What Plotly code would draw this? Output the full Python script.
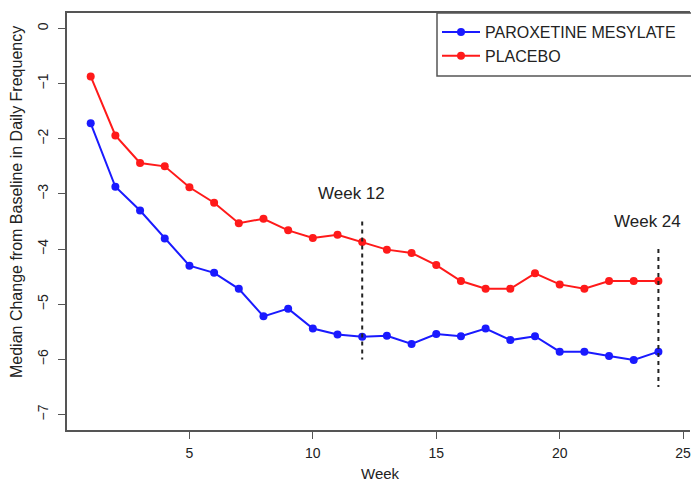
import plotly.graph_objects as go

weeks = list(range(1, 25))
paroxetine = [-1.72, -2.87, -3.30, -3.81, -4.30, -4.43, -4.72, -5.22, -5.08, -5.44,
              -5.55, -5.59, -5.57, -5.72, -5.54, -5.58, -5.44, -5.65, -5.58, -5.86,
              -5.86, -5.94, -6.01, -5.86]
placebo = [-0.87, -1.94, -2.44, -2.50, -2.88, -3.16, -3.53, -3.45, -3.66, -3.80,
           -3.74, -3.87, -4.01, -4.07, -4.29, -4.58, -4.72, -4.72, -4.44, -4.64,
           -4.72, -4.58, -4.58, -4.58]
ref_weeks = [12, 24]
ref_top = [-3.5, -4.0]
ref_bottom = [-6.0, -6.5]
ref_labels = ["Week 12", "Week 24"]
ref_label_x = [11.55, 23.55]
ref_label_y = [-3.0, -3.5]
x_ticks = [5, 10, 15, 20, 25]
y_ticks = [0, -1, -2, -3, -4, -5, -6, -7]

FONT = "Liberation Sans, Arial, Helvetica, sans-serif"
AX = "#555555"
TXT = "#222222"

# plot area geometry (px)
L, T, W, H = 67, 13, 623, 417

def px(xp):
    return (xp - L) / W

def py(yp):
    return (T + H - yp) / H

fig = go.Figure()
fig.add_trace(go.Scatter(x=weeks, y=paroxetine, mode="lines+markers", name="PAROXETINE MESYLATE",
                         line=dict(color="#1a1aff", width=2), marker=dict(color="#1a1aff", size=8)))
fig.add_trace(go.Scatter(x=weeks, y=placebo, mode="lines+markers", name="PLACEBO",
                         line=dict(color="#ff1a1a", width=2), marker=dict(color="#ff1a1a", size=8)))
for w, t, b in zip(ref_weeks, ref_top, ref_bottom):
    fig.add_trace(go.Scatter(x=[w, w], y=[t, b], mode="lines", showlegend=False,
                             line=dict(color=TXT, width=2, dash="4px,4px"), hoverinfo="skip"))
for lab, lx, ly in zip(ref_labels, ref_label_x, ref_label_y):
    fig.add_annotation(x=lx, y=ly, text=lab, showarrow=False, xref="x", yref="y",
                       font=dict(family=FONT, size=17, color=TXT))

# axis titles
fig.add_annotation(x=px(380), y=py(473), xref="paper", yref="paper", text="Week",
                   showarrow=False, xanchor="center", yanchor="middle",
                   font=dict(family=FONT, size=15, color=TXT))
fig.add_annotation(x=px(17), y=py(202), xref="paper", yref="paper",
                   text="Median Change from Baseline in Daily Frequency", textangle=-90,
                   showarrow=False, xanchor="center", yanchor="middle",
                   font=dict(family=FONT, size=16, color=TXT))

# legend frame (cropped at the right edge like the reference)
fig.add_shape(type="rect", xref="paper", yref="paper", x0=px(437), x1=px(437) + 0.6,
              y0=py(76), y1=1.0, line=dict(color=AX, width=1.5), fillcolor="white", layer="below")

fig.update_layout(
    width=691, height=483,
    margin=dict(l=L, r=691 - L - W, t=T, b=483 - T - H),
    paper_bgcolor="white", plot_bgcolor="white",
    font=dict(family=FONT, size=14, color=TXT),
    showlegend=True,
    legend=dict(x=px(437), y=py(15), xanchor="left", yanchor="top", itemwidth=38,
                bgcolor="rgba(0,0,0,0)", borderwidth=0,
                font=dict(family=FONT, size=16, color=TXT)),
    xaxis=dict(range=[0.04, 25.28], tickvals=x_ticks, ticks="outside", ticklen=7,
               tickcolor=AX, showline=True, linecolor=AX, linewidth=1.5, mirror=True,
               showgrid=False, zeroline=False, tickfont=dict(size=14),
               ticklabelstandoff=2, ticklabeloverflow="allow"),
    yaxis=dict(range=[-7.28, 0.28], tickvals=y_ticks,
               ticktext=[str(v).replace("-", "\u2212") for v in y_ticks],
               ticks="outside", ticklen=7, tickcolor=AX, showline=True, linecolor=AX,
               linewidth=1.5, mirror=False, showgrid=False, zeroline=False,
               tickangle=-90, tickfont=dict(size=14), ticklabelstandoff=5),
)

fig.write_html("out.html")
